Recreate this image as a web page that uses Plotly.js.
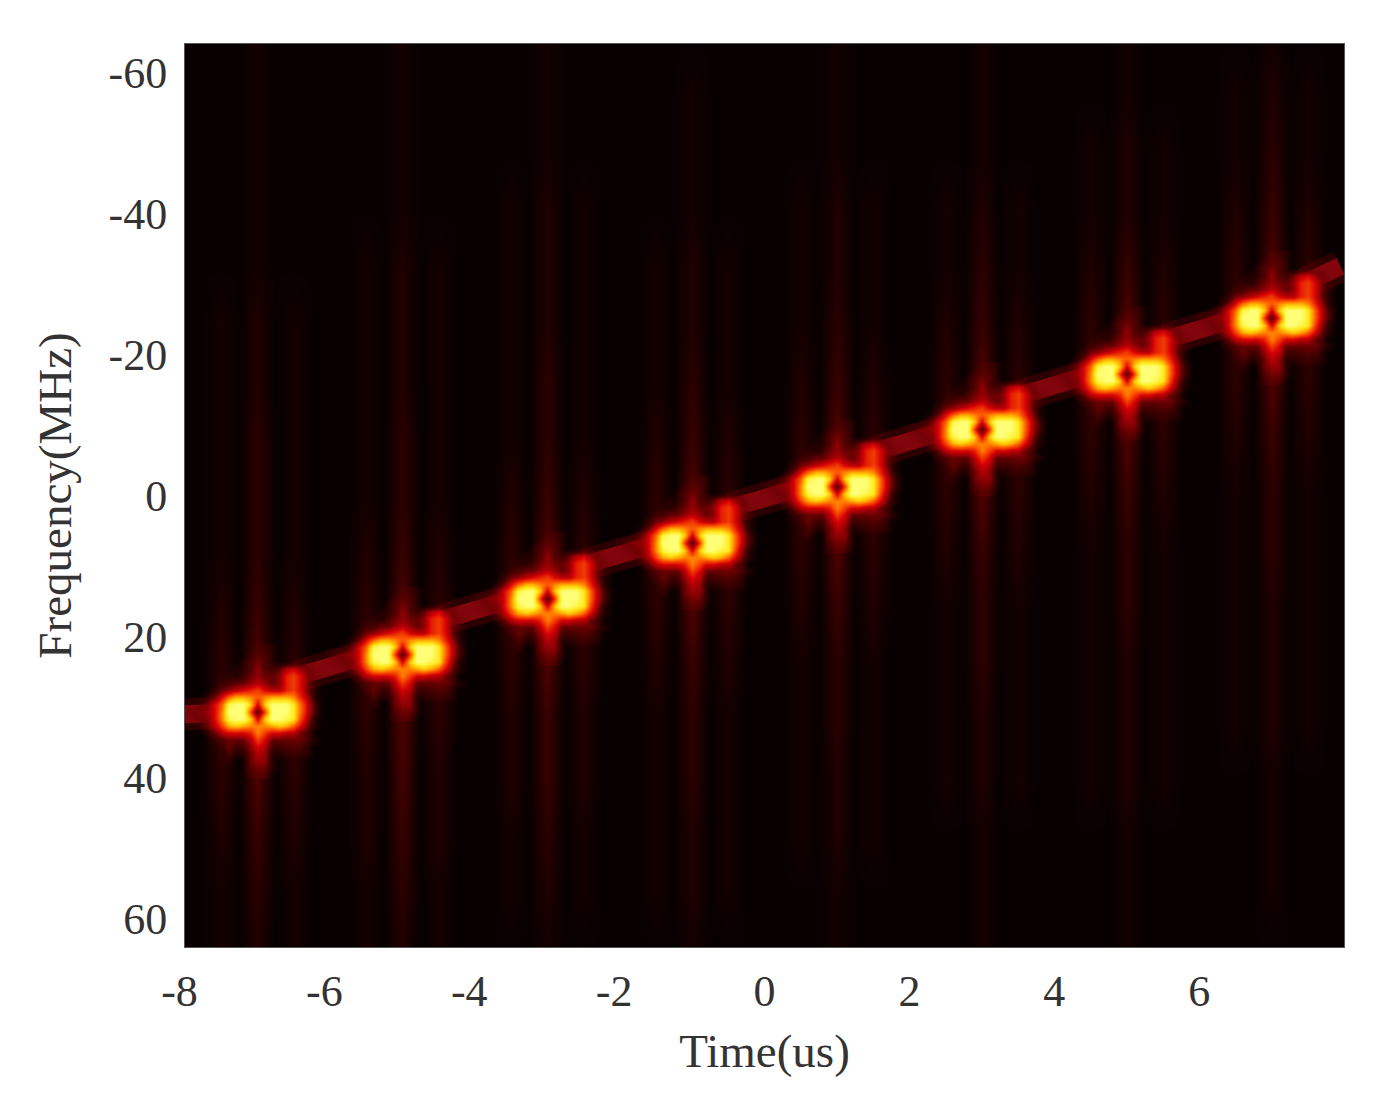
<!DOCTYPE html>
<html>
<head>
<meta charset="utf-8">
<script src="https://cdn.plot.ly/plotly-3.0.1.min.js"></script>
<style>
body { margin: 0; background: #fff; }
</style>
</head>
<body>
<div id="chart"></div>
<script>
// tick labels
var timeTicks = [-8, -6, -4, -2, 0, 2, 4, 6];
var timeLabels = ['-8\u00a0', '-6\u00a0', '-4\u00a0', '-2\u00a0', '0', '2', '4', '6'];
var freqTicks = [-60, -40, -20, 0, 20, 40, 60];
var freqLabels = ['-60', '-40', '-20', '0', '20', '40', '60'];

// burst centres
var burstTime = [-7, -5, -3, -1, 1, 3, 5, 7];
var burstFreq = [30.6, 22.5, 14.6, 6.7, -1.3, -9.4, -17.3, -25.2];

// chirp ridge between the bursts, null breaks the line
var ridgeTime = [-8, -7.4, null, -6.48, -5.45, null, -4.48, -3.45, null, -2.48, -1.44, null, -0.48, 0.56, null, 1.52, 2.56, null, 3.53, 4.56, null, 5.53, 6.56, null, 7.46, 7.95];
var ridgeFreq = [31, 30.8, null, 25.7, 22.6, null, 17.7, 14.6, null, 9.8, 6.7, null, 1.8, -1.3, null, -6.2, -9.4, null, -14.2, -17.3, null, -22.1, -25.2, null, -30.1, -32.5];

// faint vertical streaks, one string per frequency row, one digit per 0.25 us
var streakFreq = [-64, -56, -48, -40, -32, -24, -16, -8, 0, 8, 16, 24, 32, 40, 48, 56, 64];
var streakRows = [
  '0' + '00010000' + '00010000' + '00010000' + '00000000' + '00010000' + '00010000' + '00010000' + '00010000',
  '0' + '00010000' + '00010000' + '00010000' + '00010000' + '00010000' + '00010000' + '00010000' + '01020100',
  '0' + '00010000' + '00010000' + '00010000' + '00010000' + '00010000' + '00010000' + '01020100' + '01030100',
  '0' + '00010000' + '00010000' + '01020100' + '00010000' + '01020100' + '01020100' + '01020100' + '02040200',
  '0' + '00010000' + '01020100' + '01020100' + '01020100' + '01020100' + '01030100' + '02040200' + '03060300',
  '0' + '01020100' + '01020100' + '01020100' + '01020100' + '01030100' + '02040200' + '03060300' + '04080400',
  '0' + '01020100' + '01020100' + '01030100' + '01030100' + '02040200' + '03060300' + '04080400' + '03060300',
  '0' + '01030100' + '01030100' + '01030100' + '02040200' + '03060300' + '04080400' + '03060300' + '02040200',
  '0' + '01030100' + '01030100' + '02040200' + '03060300' + '04080400' + '03060300' + '02040200' + '01030100',
  '0' + '01030100' + '02040200' + '03060300' + '04080400' + '03060300' + '02040200' + '01030100' + '01030100',
  '0' + '02040200' + '03060300' + '04080400' + '03060300' + '02040200' + '01030100' + '01030100' + '01020100',
  '0' + '03060300' + '04080400' + '03060300' + '02040200' + '01030100' + '01030100' + '01020100' + '01020100',
  '0' + '04080400' + '03060300' + '02040200' + '01030100' + '01030100' + '01020100' + '01020100' + '01020100',
  '0' + '03060300' + '02050200' + '02040200' + '01030100' + '01020100' + '01020100' + '01020100' + '00010000',
  '0' + '02040200' + '02040200' + '01030100' + '01020100' + '01020100' + '00010000' + '00010000' + '00010000',
  '0' + '01030100' + '01030100' + '01020100' + '01020100' + '00010000' + '00010000' + '00010000' + '00010000',
  '0' + '01020100' + '01020100' + '00010000' + '00010000' + '00010000' + '00010000' + '00010000' + '00000000'
];

// one burst, hex levels, 0.1 us per column and 1 MHz per row, top row is the lowest frequency value
var burstRows = [
  '000000000011100000000',
  '000000000122100000000',
  '000000001232100000000',
  '000000011242235642000',
  '000000112343347863100',
  '000001233454347863100',
  '000013456786557863100',
  '0001369bba9abbba74100',
  '001369effc6cfffd95200',
  '12346afff828fffd95200',
  '01236aeffc6cffed84100',
  '001358bcbaaabcb963100',
  '0001356667a8665532000',
  '000012333586333332100',
  '000001322465222221000',
  '000000211354111111000',
  '000000100344100000000',
  '000000000233100000000',
  '000000000122000000000'
];

function parseRows(rows) {
  return rows.map(function (row) {
    return row.split('').map(function (ch) { return parseInt(ch, 16); });
  });
}

var serif = 'Liberation Serif, Times New Roman, serif';

var traces = [];

// streaks
traces.push({
  type: 'heatmap',
  x0: -8,
  dx: 0.25,
  y: streakFreq,
  z: parseRows(streakRows),
  zmin: 0,
  zmax: 9,
  zsmooth: 'best',
  showscale: false,
  hoverinfo: 'skip',
  colorscale: [[0, 'rgb(8,0,0)'], [1, 'rgb(115,0,0)']]
});

// ridge, wide glow then the core
traces.push({
  type: 'scatter',
  mode: 'lines',
  x: ridgeTime,
  y: ridgeFreq,
  hoverinfo: 'skip',
  line: { color: 'rgba(110,0,5,0.35)', width: 32 }
});
traces.push({
  type: 'scatter',
  mode: 'lines',
  x: ridgeTime,
  y: ridgeFreq,
  hoverinfo: 'skip',
  line: { color: 'rgb(130,5,12)', width: 18 }
});

// bursts go on an overlay so they sit above the ridge
var burstZ = parseRows(burstRows);
burstTime.forEach(function (t, i) {
  traces.push({
    type: 'heatmap',
    xaxis: 'x2',
    yaxis: 'y2',
    x0: t - 1,
    dx: 0.1,
    y0: burstFreq[i] - 9,
    dy: 1,
    z: burstZ,
    zmin: 0,
    zmax: 15,
    zsmooth: 'best',
    showscale: false,
    hoverinfo: 'skip',
    colorscale: [
      [0, 'rgba(90,0,0,0)'],
      [0.13, 'rgba(100,0,0,0.55)'],
      [0.27, 'rgba(150,0,5,0.95)'],
      [0.4, 'rgb(215,0,5)'],
      [0.6, 'rgb(255,90,0)'],
      [0.73, 'rgb(255,170,0)'],
      [0.87, 'rgb(255,235,30)'],
      [1, 'rgb(255,255,120)']
    ]
  });
});

var layout = {
  width: 1397,
  height: 1108,
  autosize: false,
  margin: { l: 185, r: 53, t: 44, b: 161, pad: 0 },
  paper_bgcolor: '#ffffff',
  plot_bgcolor: '#080000',
  showlegend: false,
  font: { family: serif, color: '#333333', size: 44 },
  xaxis: {
    range: [-8, 8],
    tickmode: 'array',
    tickvals: timeTicks,
    ticktext: timeLabels,
    ticks: '',
    ticklabelstandoff: 5,
    showgrid: false,
    zeroline: false,
    showline: true,
    mirror: true,
    linecolor: '#555555',
    linewidth: 1,
    title: { text: 'Time(us)', standoff: 19, font: { size: 47 } }
  },
  yaxis: {
    range: [64, -64],
    tickmode: 'array',
    tickvals: freqTicks,
    ticktext: freqLabels,
    ticks: '',
    ticklabelstandoff: 8,
    showgrid: false,
    zeroline: false,
    showline: true,
    mirror: true,
    linecolor: '#555555',
    linewidth: 1,
    title: { text: 'Frequency(MHz)', standoff: 22, font: { size: 47 } }
  },
  xaxis2: { range: [-8, 8], overlaying: 'x', visible: false },
  yaxis2: { range: [64, -64], overlaying: 'y', visible: false }
};

Plotly.newPlot('chart', traces, layout, { displayModeBar: false, staticPlot: true });
</script>
</body>
</html>
